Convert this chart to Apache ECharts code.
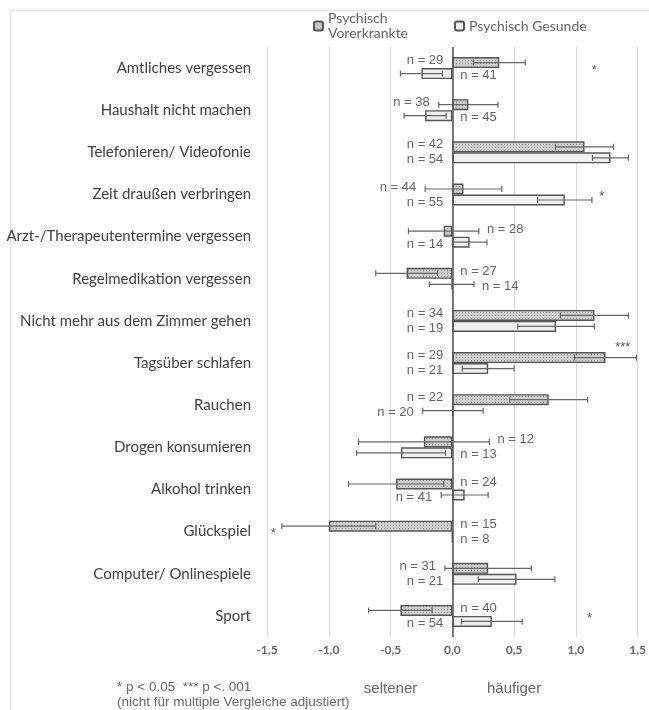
<!DOCTYPE html>
<html>
<head>
<meta charset="utf-8">
<script src="https://cdn.jsdelivr.net/npm/echarts@6/dist/echarts.min.js"></script>
<style>
html, body { margin: 0; background: #fff; }
#main { width: 649px; height: 710px; }
</style>
</head>
<body>
<div id="main"></div>
<script>
// Verhalten seit Pandemiebeginn: seltener (<0) / häufiger (>0)
var kategorien = [
	'Amtliches vergessen', 'Haushalt nicht machen', 'Telefonieren/ Videofonie',
	'Zeit draußen verbringen', 'Arzt-/Therapeutentermine vergessen', 'Regelmedikation vergessen',
	'Nicht mehr aus dem Zimmer gehen', 'Tagsüber schlafen', 'Rauchen', 'Drogen konsumieren',
	'Alkohol trinken', 'Glückspiel', 'Computer/ Onlinespiele', 'Sport'
];
var vorerkrankt       = [0.38, 0.13, 1.07, 0.09, -0.07, -0.37, 1.15, 1.24, 0.78, -0.23, -0.455, -1.0, 0.29, -0.42];
var vorerkranktFehler = [0.21, 0.24, 0.235, 0.31, 0.285, 0.25, 0.275, 0.25, 0.315, 0.53, 0.385, 0.38, 0.35, 0.257];
var vorerkranktN      = [29, 38, 42, 44, 28, 27, 34, 29, 22, 12, 24, 15, 31, 40];
var gesund            = [-0.25, -0.22, 1.28, 0.91, 0.14, -0.005, 0.84, 0.29, 0.005, -0.415, 0.10, 0.0, 0.52, 0.32];
var gesundFehler      = [0.17, 0.17, 0.145, 0.22, 0.14, 0.18, 0.31, 0.21, 0.245, 0.36, 0.19, 0, 0.31, 0.246];
var gesundN           = [41, 45, 54, 55, 14, 14, 19, 21, 20, 13, 41, 8, 21, 54];
var signifikanz = [
	['Amtliches vergessen', '*', 1.15],
	['Zeit draußen verbringen', '*', 1.21],
	['Tagsüber schlafen', '***', 1.38],
	['Glückspiel', '*', -1.45],
	['Sport', '*', 1.11]
];
var richtungen = { '-0.5': 'seltener', '0.5': 'häufiger' };

// gepunktetes Muster wie im Original
function muster() {
	var c = document.createElement('canvas');
	c.width = 3; c.height = 3;
	var ctx = c.getContext('2d');
	ctx.fillStyle = '#cdcdcd';
	ctx.fillRect(0, 0, 3, 3);
	ctx.fillStyle = '#969696';
	ctx.fillRect(0, 0, 1, 1);
	return c;
}

function fehlerDaten(werte, fehler, ns) {
	var d = [];
	for (var i = 0; i < werte.length; i++) {
		d.push([werte[i], i, fehler[i], ns[i]]);
	}
	return d;
}

function fehlerBalken(seite) {
	return function (params, api) {
		var v = api.value(0), cat = api.value(1), e = api.value(2), n = api.value(3);
		var y = api.coord([0, cat])[1] + seite * 5.5;
		var kids = [];
		var st = { stroke: '#666', lineWidth: 1.2 };
		if (e > 0) {
			var a = api.coord([v - e, cat])[0];
			var b = api.coord([v + e, cat])[0];
			kids.push({ type: 'line', shape: { x1: a, y1: y, x2: b, y2: y }, style: st });
			kids.push({ type: 'line', shape: { x1: a, y1: y - 3, x2: a, y2: y + 3 }, style: st });
			kids.push({ type: 'line', shape: { x1: b, y1: y - 3, x2: b, y2: y + 3 }, style: st });
		}
		var lx, align;
		if (v > 0) {
			lx = api.coord([Math.min(0, v - e), cat])[0] - 9;
			align = 'right';
		} else {
			lx = api.coord([Math.max(0, v + e), cat])[0] + 8;
			align = 'left';
		}
		kids.push({
			type: 'text',
			style: {
				x: lx, y: y + seite * 2, text: 'n = ' + n, align: align, verticalAlign: 'middle',
				fill: '#666', font: '13px "Liberation Sans", Arial, sans-serif'
			}
		});
		return { type: 'group', children: kids };
	};
}

var sterne = signifikanz.map(function (s) {
	return [s[2], kategorien.indexOf(s[0]), s[1]];
});

var myChart = echarts.init(document.getElementById('main'));

var option = {
	animation: false,
	backgroundColor: '#fff',
	graphic: [{
		type: 'rect', left: 8, top: 8, silent: true,
		shape: { width: 700, height: 720 },
		style: { fill: 'none', stroke: '#e6e6e6', lineWidth: 1.5 }
	}, {
		// Fußnote
		type: 'text', left: 117, top: 680, silent: true,
		style: {
			text: '* p < 0.05  *** p <. 001\n(nicht für multiple Vergleiche adjustiert)',
			fill: '#666', font: '13.5px "Liberation Sans", Arial', lineHeight: 15
		}
	}],
	legend: {
		data: ['Psychisch\nVorerkrankte', 'Psychisch Gesunde'],
		left: 308,
		top: 6,
		itemWidth: 9,
		itemHeight: 9,
		itemGap: 46,
		textStyle: { color: '#666', fontSize: 14, fontFamily: 'Lato', lineHeight: 15 }
	},
	grid: { left: 267, right: 9, top: 47, bottom: 73, containLabel: false },
	xAxis: [{
		type: 'value',
		min: -1.5,
		max: 1.5,
		interval: 0.5,
		axisLine: { show: false },
		axisTick: { show: false },
		splitLine: { lineStyle: { color: '#dadada', width: 1 } },
		axisLabel: {
			margin: 7,
			color: '#666',
			fontSize: 12,
			fontWeight: 'bold',
			fontFamily: 'Lato',
			formatter: function (v) { return v.toFixed(1).replace('.', ','); }
		}
	}, {
		type: 'value',
		position: 'bottom',
		offset: 36,
		min: -1.5,
		max: 1.5,
		interval: 0.5,
		axisLine: { show: false },
		axisTick: { show: false },
		splitLine: { show: false },
		axisLabel: {
			color: '#666',
			fontSize: 15,
			fontFamily: '"Liberation Sans", Arial',
			formatter: function (v) { return richtungen[String(v)] || ''; }
		}
	}],
	yAxis: {
		type: 'category',
		inverse: true,
		data: kategorien,
		axisLine: { show: false },
		axisTick: { show: false },
		axisLabel: { margin: 16, color: '#404040', fontSize: 15, fontFamily: 'Lato' }
	},
	series: [
		{
			name: 'Psychisch\nVorerkrankte',
			type: 'bar',
			data: vorerkrankt,
			barWidth: 11,
			barGap: '0%',
			itemStyle: { color: { image: muster(), repeat: 'repeat' }, borderColor: '#555', borderWidth: 1.4 },
			markLine: {
				silent: true,
				symbol: 'none',
				label: { show: false },
				lineStyle: { color: '#555', width: 1.5, type: 'solid' },
				data: [{ xAxis: 0 }]
			}
		},
		{
			name: 'Psychisch Gesunde',
			type: 'bar',
			data: gesund,
			barWidth: 11,
			itemStyle: { color: '#f0f0f0', borderColor: '#555', borderWidth: 1.4 }
		},
		{
			type: 'custom',
			renderItem: fehlerBalken(-1),
			encode: { x: 0, y: 1 },
			data: fehlerDaten(vorerkrankt, vorerkranktFehler, vorerkranktN),
			z: 5
		},
		{
			type: 'custom',
			renderItem: fehlerBalken(1),
			encode: { x: 0, y: 1 },
			data: fehlerDaten(gesund, gesundFehler, gesundN),
			z: 5
		},
		{
			type: 'custom',
			encode: { x: 0, y: 1 },
			data: sterne,
			z: 6,
			renderItem: function (params, api) {
				var p = api.coord([api.value(0), api.value(1)]);
				var txt = sterne[params.dataIndex][2];
				var dy = txt.length > 1 ? -16 : 2;
				return {
					type: 'text',
					style: {
						x: p[0], y: p[1] + dy, text: txt, align: 'center', verticalAlign: 'middle',
						fill: '#555', font: '13px "Liberation Sans", Arial'
					}
				};
			}
		}
	]
};
myChart.setOption(option);
</script>
</body>
</html>
